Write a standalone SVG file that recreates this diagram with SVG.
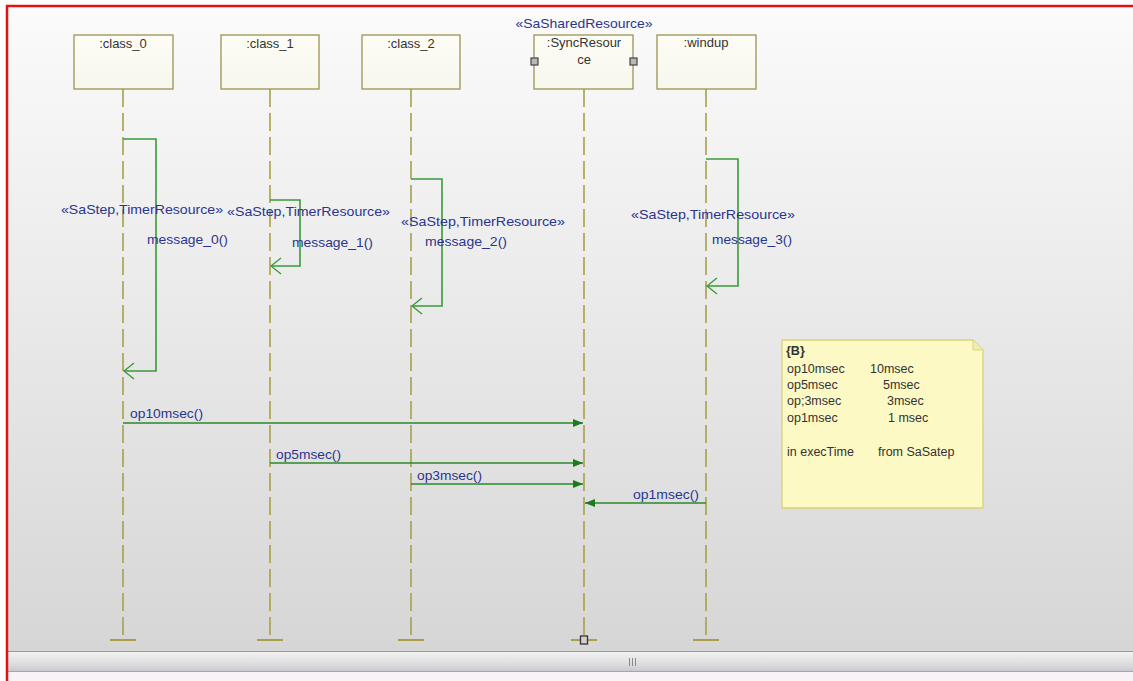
<svg xmlns="http://www.w3.org/2000/svg" width="1133" height="681" viewBox="0 0 1133 681">
<style>
.lbl{font-family:"Liberation Sans",Arial,sans-serif;font-size:13.5px;fill:#2b3590}
.name{font-family:"Liberation Sans",Arial,sans-serif;font-size:13px;fill:#333;text-anchor:middle}
.note{font-family:"Liberation Sans",Arial,sans-serif;font-size:12.5px;fill:#333}
.head{fill:url(#boxg);stroke:#9c9450;stroke-width:1.3}
.life{stroke:#a8a048;stroke-width:1.6;stroke-dasharray:18,6;fill:none}
.foot{stroke:#a8a048;stroke-width:2}
.self{fill:none;stroke:#3a9a3a;stroke-width:1.6}
.msg{fill:none;stroke:#2a882a;stroke-width:1.6}
.port{fill:#b8b8b8;stroke:#444;stroke-width:1.2}
</style>
<defs>
<linearGradient id="bg" x1="0" y1="0" x2="0" y2="1">
<stop offset="0" stop-color="#fbfbfb"/>
<stop offset="1" stop-color="#d6d6d6"/>
</linearGradient>
<linearGradient id="boxg" x1="0" y1="0" x2="0" y2="1">
<stop offset="0" stop-color="#fdfdf6"/>
<stop offset="1" stop-color="#f7f7ee"/>
</linearGradient>
<linearGradient id="sb" x1="0" y1="0" x2="0" y2="1">
<stop offset="0" stop-color="#f3f3f3"/>
<stop offset="0.5" stop-color="#e2e2e4"/>
<stop offset="1" stop-color="#c9c7cf"/>
</linearGradient>
<marker id="fill" viewBox="0 0 10 10" refX="10" refY="5" markerWidth="10" markerHeight="10" markerUnits="userSpaceOnUse" orient="auto">
<path d="M0,1 L10,5 L0,9 Z" fill="#1f7a1f"/>
</marker>
<marker id="open" viewBox="0 0 12 18" refX="11" refY="9" markerWidth="12" markerHeight="18" markerUnits="userSpaceOnUse" orient="auto">
<path d="M1,1 L11,9 L1,17" fill="none" stroke="#3a9a3a" stroke-width="1.4"/>
</marker>
</defs>

<rect x="0" y="0" width="1133" height="681" fill="#ffffff"/>
<rect x="7" y="6" width="1126" height="645" fill="url(#bg)"/>

<!-- scrollbar -->
<rect x="7" y="651" width="1126" height="21" fill="url(#sb)"/>
<line x1="7" y1="651.5" x2="1133" y2="651.5" stroke="#9a9a9a" stroke-width="1.2"/>
<line x1="7" y1="671.5" x2="1133" y2="671.5" stroke="#a8a4ac" stroke-width="1"/>
<rect x="7" y="672" width="1126" height="9" fill="#f9f2f6"/>
<g stroke="#8a8a8a" stroke-width="1">
<line x1="629.5" y1="658" x2="629.5" y2="666"/>
<line x1="632.5" y1="658" x2="632.5" y2="666"/>
<line x1="635.5" y1="658" x2="635.5" y2="666"/>
</g>

<!-- red frame -->
<line x1="6" y1="6" x2="1133" y2="6" stroke="#e01414" stroke-width="2.5"/>
<line x1="7" y1="5" x2="7" y2="681" stroke="#e01414" stroke-width="2.5"/>

<!-- lifelines -->
<g id="lifeline-class_0">
<line class="life" x1="123" y1="89" x2="123" y2="640"/>
<line class="foot" x1="110" y1="640" x2="136" y2="640"/>
<rect class="head" x="74" y="35" width="99" height="54"/>
<text class="name" x="123" y="48">:class_0</text>
</g>
<g id="lifeline-class_1">
<line class="life" x1="270" y1="89" x2="270" y2="640"/>
<line class="foot" x1="257" y1="640" x2="283" y2="640"/>
<rect class="head" x="221" y="35" width="98" height="54"/>
<text class="name" x="270" y="48">:class_1</text>
</g>
<g id="lifeline-class_2">
<line class="life" x1="411" y1="89" x2="411" y2="640"/>
<line class="foot" x1="398" y1="640" x2="424" y2="640"/>
<rect class="head" x="362" y="35" width="98" height="54"/>
<text class="name" x="411" y="48">:class_2</text>
</g>
<g id="lifeline-SyncResource">
<line class="life" x1="584" y1="89" x2="584" y2="640"/>
<line class="foot" x1="571" y1="640" x2="597" y2="640"/>
<rect x="580.5" y="636" width="7" height="8" fill="#d0d0d0" stroke="#333" stroke-width="1.3"/>
<text class="lbl" x="584" y="28" text-anchor="middle" textLength="137" lengthAdjust="spacingAndGlyphs">«SaSharedResource»</text>
<rect class="head" x="534" y="35" width="99" height="54"/>
<text class="name" x="584" y="47">:SyncResour</text>
<text class="name" x="584" y="64">ce</text>
<rect class="port" x="531" y="58" width="7" height="7"/>
<rect class="port" x="630" y="58" width="7" height="7"/>
</g>
<g id="lifeline-windup">
<line class="life" x1="706" y1="89" x2="706" y2="640"/>
<line class="foot" x1="693" y1="640" x2="719" y2="640"/>
<rect class="head" x="657" y="35" width="99" height="54"/>
<text class="name" x="706" y="47">:windup</text>
</g>

<!-- connectors -->
<g id="connectors">
<path class="self" d="M123,139 H156 V371 H124" marker-end="url(#open)"/>
<path class="self" d="M270,200 H300 V266 H271" marker-end="url(#open)"/>
<path class="self" d="M411,179 H442 V306 H412" marker-end="url(#open)"/>
<path class="self" d="M706,159 H738 V286 H707" marker-end="url(#open)"/>
<line class="msg" x1="123" y1="423" x2="583" y2="423" marker-end="url(#fill)"/>
<line class="msg" x1="270" y1="463" x2="583" y2="463" marker-end="url(#fill)"/>
<line class="msg" x1="411" y1="484" x2="583" y2="484" marker-end="url(#fill)"/>
<line class="msg" x1="706" y1="503" x2="585" y2="503" marker-end="url(#fill)"/>
</g>

<!-- labels -->
<g id="labels">
<text class="lbl" x="61" y="214" textLength="162" lengthAdjust="spacingAndGlyphs">«SaStep,TimerResource»</text>
<text class="lbl" x="147" y="244" textLength="81" lengthAdjust="spacingAndGlyphs">message_0()</text>
<text class="lbl" x="227" y="216" textLength="163" lengthAdjust="spacingAndGlyphs">«SaStep,TimerResource»</text>
<text class="lbl" x="292" y="247" textLength="81" lengthAdjust="spacingAndGlyphs">message_1()</text>
<text class="lbl" x="401" y="226" textLength="164" lengthAdjust="spacingAndGlyphs">«SaStep,TimerResource»</text>
<text class="lbl" x="425" y="246" textLength="82" lengthAdjust="spacingAndGlyphs">message_2()</text>
<text class="lbl" x="631" y="219" textLength="164" lengthAdjust="spacingAndGlyphs">«SaStep,TimerResource»</text>
<text class="lbl" x="712" y="244" textLength="80" lengthAdjust="spacingAndGlyphs">message_3()</text>
<text class="lbl" x="130" y="418" textLength="73" lengthAdjust="spacingAndGlyphs">op10msec()</text>
<text class="lbl" x="276" y="459" textLength="65" lengthAdjust="spacingAndGlyphs">op5msec()</text>
<text class="lbl" x="417" y="480" textLength="65" lengthAdjust="spacingAndGlyphs">op3msec()</text>
<text class="lbl" x="633" y="499" textLength="66" lengthAdjust="spacingAndGlyphs">op1msec()</text>
</g>

<!-- note -->
<g id="note">
<path d="M782,340 H973 L983,350 V508 H782 Z" fill="#fcf9c4" stroke="#d9d27a" stroke-width="1.3"/>
<path d="M973,340 V350 H983" fill="#f2eeb0" stroke="#d9d27a" stroke-width="1"/>
<text class="note" x="786" y="355" font-weight="bold" font-size="11">{B}</text>
<text class="note" x="787" y="373">op10msec</text><text class="note" x="870" y="373">10msec</text>
<text class="note" x="787" y="389">op5msec</text><text class="note" x="883" y="389">5msec</text>
<text class="note" x="787" y="405">op;3msec</text><text class="note" x="887" y="405">3msec</text>
<text class="note" x="787" y="422">op1msec</text><text class="note" x="888" y="422">1 msec</text>
<text class="note" x="787" y="456">in  execTime</text><text class="note" x="878" y="456">from  SaSatep</text>
</g>
</svg>
